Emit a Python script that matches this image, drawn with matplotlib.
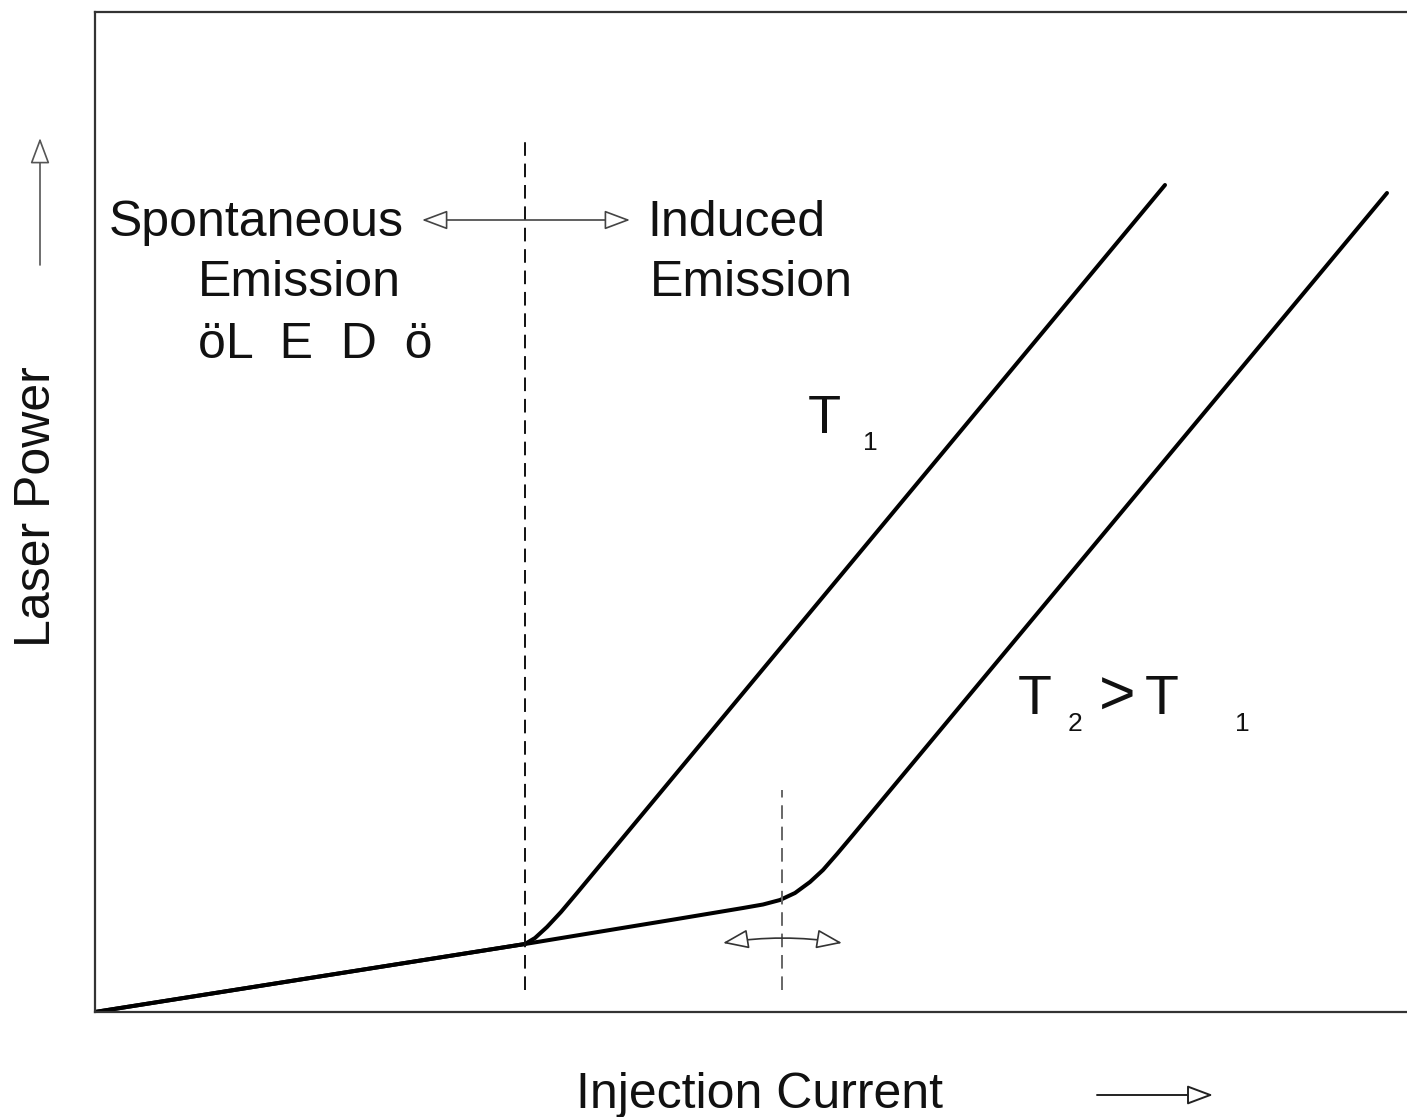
import matplotlib
matplotlib.use("Agg")
import matplotlib.pyplot as plt

plt.rcParams['font.family'] = ['Liberation Sans', 'DejaVu Sans']

# ---- data (arbitrary units: current, power) ----
base_x = [0, 430]
base_y = [0, 68]

t1_x = [430, 440, 452, 466, 482, 1070]
t1_y = [68, 74, 85, 100, 119, 827]

t2_x = [430, 515, 582, 648, 668, 685, 700, 715, 728, 742, 758, 1292]
t2_y = [68, 82, 93, 104, 107.5, 112, 119, 130, 142, 158, 177, 819]

threshold_1 = 430
threshold_1_span = [22, 875]
threshold_2 = 687
threshold_2_span = [22, 222]

TXT = '#111111'

fig = plt.figure(figsize=(14.07, 11.17), dpi=100)
ax = fig.add_axes([95 / 1407, 105 / 1117, 1320 / 1407, 1000 / 1117])
ax.set_xlim(0, 1320)
ax.set_ylim(0, 1000)
ax.set_xticks([])
ax.set_yticks([])
for s in ax.spines.values():
    s.set_color('#333333')
    s.set_linewidth(1.6)

# curves
ax.plot(base_x + t1_x[1:], base_y + t1_y[1:], color='black', lw=2.9,
        solid_capstyle='round', solid_joinstyle='round')
ax.plot(base_x + t2_x[1:], base_y + t2_y[1:], color='black', lw=2.9,
        solid_capstyle='round', solid_joinstyle='round')

# threshold dashed lines
ax.plot([threshold_1, threshold_1], threshold_1_span, color='#111111', lw=1.4,
        linestyle=(0, (7, 4)))
ax.plot([threshold_2, threshold_2], threshold_2_span, color='#666666', lw=1.4,
        linestyle=(0, (7, 4)))

# arrows
head = '<|-|>,head_length=0.8,head_width=0.3'
ax.annotate('', xy=(327, 792), xytext=(535, 792),
            arrowprops=dict(arrowstyle=head, fc='white', ec='#444444', lw=1.2,
                            mutation_scale=20, shrinkA=0, shrinkB=0))
ax.annotate('', xy=(747, 69), xytext=(628, 69),
            arrowprops=dict(arrowstyle=head, fc='white', ec='#333333', lw=1.2,
                            mutation_scale=20, shrinkA=0, shrinkB=0,
                            connectionstyle='arc3,rad=-0.08'))
ax.annotate('', xy=(-55, 874), xytext=(-55, 747), annotation_clip=False,
            arrowprops=dict(arrowstyle='-|>,head_length=0.8,head_width=0.3',
                            fc='white', ec='#555555', lw=1.2,
                            mutation_scale=20, shrinkA=0, shrinkB=0))
ax.annotate('', xy=(1118, -83), xytext=(1002, -83), annotation_clip=False,
            arrowprops=dict(arrowstyle='-|>,head_length=0.8,head_width=0.3',
                            fc='white', ec='#222222', lw=1.4,
                            mutation_scale=20, shrinkA=0, shrinkB=0))

# texts
fs = 36
ax.text(161, 776, 'Spontaneous', ha='center', va='baseline', fontsize=fs, color=TXT)
ax.text(204, 716, 'Emission', ha='center', va='baseline', fontsize=fs, color=TXT)
ax.text(220, 654, 'öL  E  D  ö', ha='center', va='baseline', fontsize=fs, color=TXT)
ax.text(552, 776, 'Induced', ha='left', va='baseline', fontsize=fs, color=TXT)
ax.text(555, 716, 'Emission', ha='left', va='baseline', fontsize=fs, color=TXT)

ax.text(713, 579, 'T', ha='left', va='baseline', fontsize=39, color=TXT)
ax.text(768, 562, '1', ha='left', va='baseline', fontsize=19, color=TXT)
ax.text(923, 298, 'T', ha='left', va='baseline', fontsize=40, color=TXT)
ax.text(973, 281, '2', ha='left', va='baseline', fontsize=19, color=TXT)
ax.text(1004, 297, '>', ha='left', va='baseline', fontsize=45, color=TXT)
ax.text(1050, 298, 'T', ha='left', va='baseline', fontsize=40, color=TXT)
ax.text(1140, 281, '1', ha='left', va='baseline', fontsize=19, color=TXT)

ax.text(665, -96, 'Injection Current', ha='center', va='baseline', fontsize=fs,
        color=TXT, clip_on=False)
ax.text(-45, 505, 'Laser Power', ha='center', va='baseline', fontsize=fs,
        color=TXT, rotation=90, rotation_mode='anchor', clip_on=False)

fig.savefig('out.png', dpi=100)
